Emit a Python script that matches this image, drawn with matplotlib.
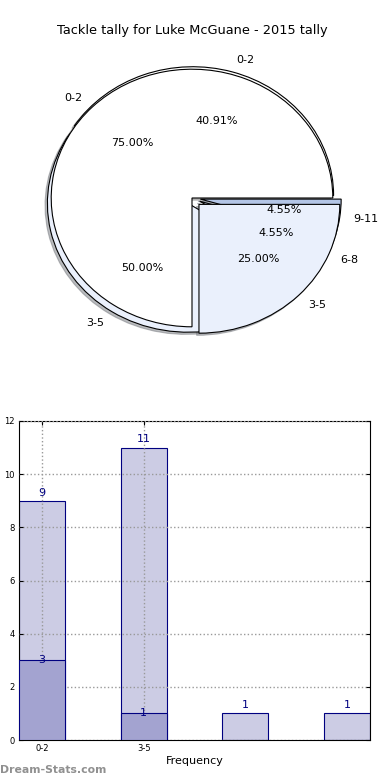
import numpy as np
import matplotlib
matplotlib.use('Agg')
import matplotlib.pyplot as plt

# data
bins = ['0-2', '3-5', '6-8', '9-11']
all_counts = [9, 11, 1, 1]          # outer / light series
sub_bins = ['0-2', '3-5']
sub_counts = [3, 1]                 # inner / dark series

title = 'Tackle tally for Luke McGuane - 2015 tally'
pie_colors = ['white', '#eaf0fc', '#c9d7f0', '#b3c5e6']

fig = plt.figure(figsize=(3.9, 7.8), dpi=100)
fig.patch.set_facecolor('white')

shadow = {'ox': -0.012, 'oy': -0.012, 'shade': 0.5}

# ---- pie part ----
ax1 = fig.add_axes([16 / 390, 1 - 359 / 780, 352 / 390, 322 / 780])
ax1.pie(all_counts, labels=bins, autopct='%1.2f%%', colors=pie_colors,
        explode=[0.02, 0.05, 0.06, 0.06], shadow=shadow,
        wedgeprops={'edgecolor': 'black', 'linewidth': 0.8},
        textprops={'fontsize': 8})
ax1.pie(sub_counts, labels=sub_bins, autopct='%1.2f%%', colors=pie_colors[:2],
        explode=[0.0, 0.07], shadow=shadow,
        wedgeprops={'edgecolor': 'black', 'linewidth': 0.8},
        textprops={'fontsize': 8})
ax1.set_aspect('auto')
ax1.set_xlim(-1.25, 1.25)
ax1.set_ylim(-1.25, 1.25)
ax1.set_title(title, fontsize=9.3, pad=2)

# ---- bar part ----
ax2 = fig.add_axes([19 / 390, 40 / 780, 351 / 390, 319 / 780])
x = np.arange(len(all_counts))
w = 0.45
ax2.bar(x, all_counts, width=w, color='#ccccE4', edgecolor='navy', linewidth=0.8, zorder=2)
ax2.bar(x[:len(sub_counts)], sub_counts, width=w, color='#a3a3d0', edgecolor='navy',
        linewidth=0.8, zorder=3)
for xi, v in zip(x, all_counts):
    ax2.text(xi, v + 0.12, str(v), ha='center', va='bottom', color='navy', fontsize=8, zorder=6)
for xi, v in zip(x, sub_counts):
    ax2.text(xi, v, str(v), ha='center', va='center', color='navy', fontsize=8, zorder=6)

ax2.set_xlim(-w / 2, len(all_counts) - 1 + w / 2)
ax2.set_ylim(0, 12)
ax2.set_yticks(range(0, 13, 2))
ax2.set_xticks(x[:len(sub_bins)])
ax2.set_xticklabels(sub_bins)
ax2.tick_params(labelsize=6, direction='in', length=3, top=True, right=True, pad=3)
ax2.set_axisbelow(False)
ax2.grid(True, linestyle=':', color='#999999', linewidth=1, zorder=5)
ax2.set_xlabel('Frequency', fontsize=8, labelpad=2)

fig.text(0.0, 0.006, 'Dream-Stats.com', color='#909090', fontsize=7.8,
         fontweight='bold', ha='left', va='bottom')

fig.savefig('out.png', dpi=100, facecolor='white')
